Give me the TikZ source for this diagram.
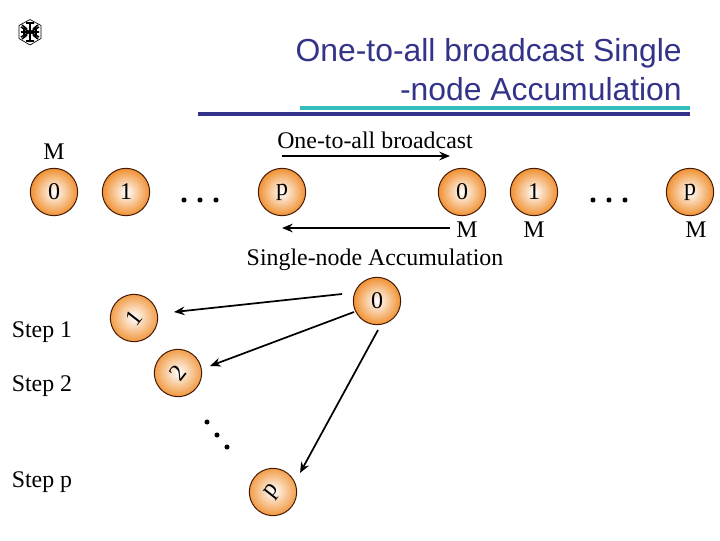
\documentclass[tikz,border=0pt]{standalone}
\usepackage{fontspec}
\setmainfont{Liberation Serif}
\newfontfamily\titlefont{Liberation Sans}
\usetikzlibrary{arrows.meta}
\definecolor{titleblue}{RGB}{51,51,137}
\definecolor{ruleteal}{RGB}{51,190,190}
\definecolor{ballorange}{RGB}{240,145,50}
\definecolor{ballline}{RGB}{70,25,5}
\tikzset{
  ball/.style={circle,draw=ballline,line width=0.75pt,inner color=white,outer color=ballorange,minimum size=35.5pt,inner sep=0pt,font=\fontsize{18}{20}\selectfont},
  lab/.style={inner sep=0pt,font=\fontsize{17.9}{20}\selectfont},
  arrowline/.style={line width=1.3pt,-{Stealth[length=8pt,width=6.5pt]}},
  dotmark/.style={circle,fill=black,inner sep=0pt,minimum size=3.8pt},
  titletext/.style={inner sep=0pt,anchor=base east,text=titleblue,font=\titlefont\fontsize{23.9}{28}\selectfont}
}
\begin{document}
\begin{tikzpicture}[x=0.75pt,y=-0.75pt]
\useasboundingbox (0,0) rectangle (720,540);
% logo
\begin{scope}[shift={(30,32)},line width=0.5pt]
  \draw (0,-12.5) -- (11,-6.5) -- (11,6.5) -- (0,13) -- (-11,6.5) -- (-11,-6.5) -- cycle;
  \draw[line width=1.2pt] (0,-10) -- (0,10) (-9,-5) -- (9,5) (-9,5) -- (9,-5);
  \draw[line width=1.2pt] (-8,-7) -- (-3,-3) (8,-7) -- (3,-3) (-8,7) -- (-3,3) (8,7) -- (3,3) (-9,0) -- (9,0) (-4,-9) -- (4,-9) (-4,9) -- (4,9) (-6,-3) -- (-6,4) (6,-3) -- (6,4);
\end{scope}
% title
\node[titletext] (t1) at (682,61) {One-to-all broadcast Single};
\node[titletext] (t2) at (682,100) {-node Accumulation};
\fill[ruleteal] (300,106) rectangle (690,110);
\fill[titleblue] (198,112) rectangle (690,116);
% top row
\node[lab] (mlab) at (54,152) {M};
\node[ball] (a0) at (54,192) {0};
\node[ball] (a1) at (126,192) {1};
\node[ball] (ap) at (282,192) {p};
\node[dotmark] (d1) at (184,200) {};
\node[dotmark] (d2) at (200,200) {};
\node[dotmark] (d3) at (216,200) {};
\node[ball] (b0) at (462,192) {0};
\node[ball] (b1) at (534,192) {1};
\node[ball] (bp) at (690,192) {p};
\node[dotmark] (d4) at (593,200) {};
\node[dotmark] (d5) at (609,200) {};
\node[dotmark] (d6) at (625,200) {};
\node[lab] (m0) at (467,230) {M};
\node[lab] (m1) at (534,230) {M};
\node[lab] (mp) at (696,230) {M};
\node[lab] (oab) at (375,140) {One-to-all broadcast};
\node[lab] (sna) at (375,260) {Single-node Accumulation};
\coordinate (ta) at (282,156);
\coordinate (tb) at (450,156);
\coordinate (ua) at (450,228);
\coordinate (ub) at (282,228);
\draw[arrowline] (ta) -- (tb);
\draw[arrowline] (ua) -- (ub);
% lower
\node[ball] (c0) at (377,301) {0};
\node[ball,rotate=52] (c1) at (134,318) {1};
\node[ball,rotate=52] (c2) at (178,373) {2};
\node[ball,rotate=52] (c3) at (273,492) {p};
\node[dotmark] (e1) at (207,422) {};
\node[dotmark] (e2) at (217,435) {};
\node[dotmark] (e3) at (227,447) {};
\node[lab] (s1) at (42,332) {Step 1};
\node[lab] (s2) at (42,386) {Step 2};
\node[lab] (s3) at (42,482) {Step p};
\coordinate (p1) at (342,294);
\coordinate (q1) at (174,312);
\coordinate (p2) at (354,312);
\coordinate (q2) at (210,366);
\coordinate (p3) at (378,330);
\coordinate (q3) at (300,473);
\draw[arrowline] (p1) -- (q1);
\draw[arrowline] (p2) -- (q2);
\draw[arrowline] (p3) -- (q3);
\end{tikzpicture}
\end{document}
